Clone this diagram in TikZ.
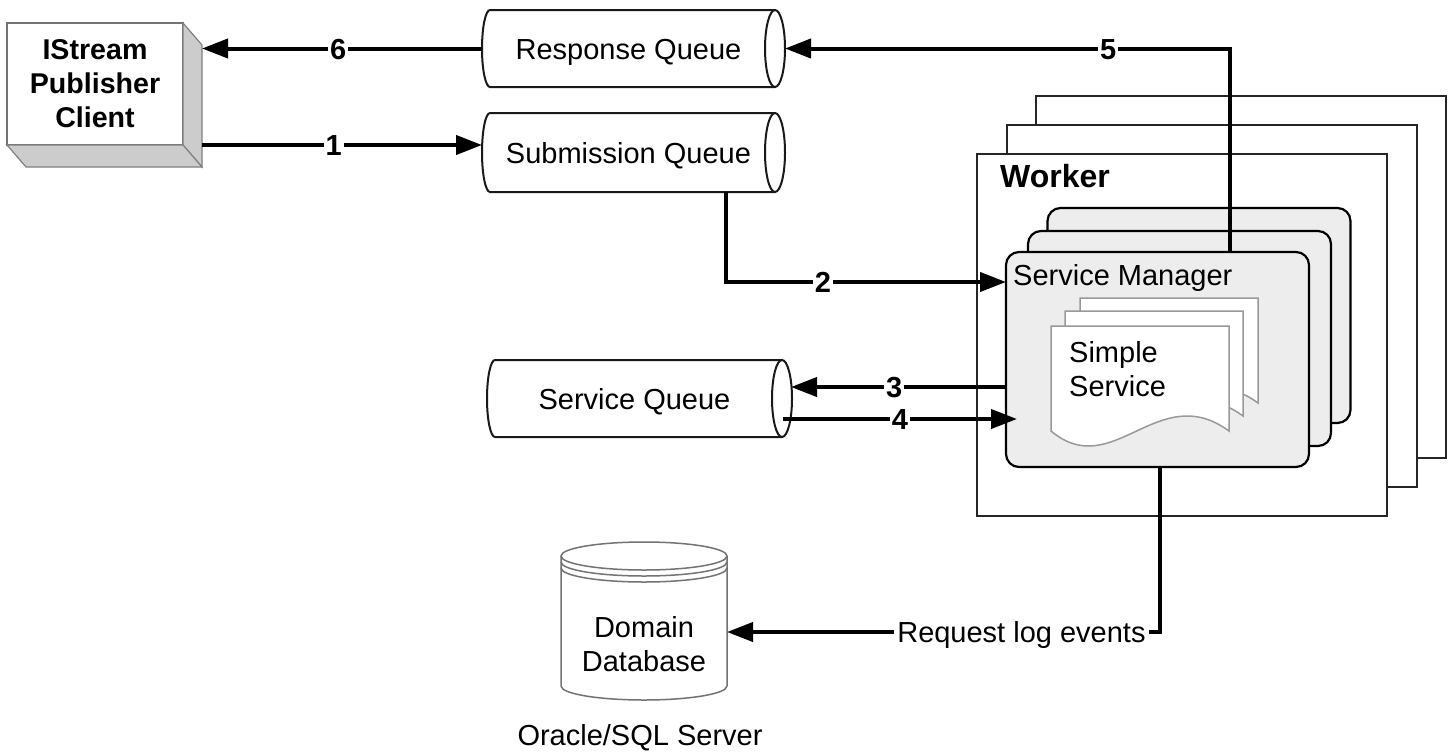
\documentclass[tikz,border=0pt]{standalone}
\usepackage{fontspec}
\setmainfont{Liberation Sans}
\usetikzlibrary{arrows.meta,calc}
\tikzset{
  basefont/.style={font=\fontsize{29}{34}\selectfont},
  arr/.style={line width=4pt, -{Triangle[length=26pt,width=19pt]}},
  num/.style={font=\fontsize{29}{34}\selectfont\bfseries, fill=white, inner sep=2pt, text height=21pt, text depth=0pt},
  shapebox/.style={rectangle, outer sep=0pt, inner sep=0pt},
  qnode/.style={shapebox, basefont, text height=21pt, text depth=0pt, minimum width=293pt},
  qline/.style={line width=2pt, draw=black!90},
  wbox/.style={shapebox, draw=black!85, line width=2pt, fill=white, minimum width=410pt, minimum height=362pt},
  smbox/.style={shapebox, draw=black, line width=2.2pt, fill=black!7, rounded corners=13pt, minimum width=303pt, minimum height=215pt},
  docline/.style={draw=black!40, line width=1.5pt, fill=white},
  dbline/.style={draw=black!55, line width=1.5pt},
  face/.style={draw=black!50, line width=1.2pt, fill=black!20},
  onetext/.style={basefont, inner sep=0pt, text height=21pt, text depth=0pt},
}
\newcommand\queueoutline[2]{%
  \draw[qline] ([xshift=8pt]#1.north west) -- (#1.north east)
     arc[start angle=90,end angle=-90,x radius=10pt,y radius=#2pt]
     -- ([xshift=8pt]#1.south west)
     arc[start angle=270,end angle=90,x radius=8pt,y radius=#2pt] -- cycle;
  \draw[qline] (#1.north east) arc[start angle=90,end angle=270,x radius=10pt,y radius=#2pt];
}
\newcommand\docpath[2]{%
  \filldraw[docline] (#1,#2) -- (#1+178,#2) -- (#1+178,#2+105)
    .. controls (#1+107,#2+53) and (#1+62,#2+157) .. (#1,#2+105) -- cycle;
}
\begin{document}
\begin{tikzpicture}[x=1pt,y=-1pt]
\fill[white] (0,0) rectangle (1448,753);
\useasboundingbox (0,0) rectangle (1448,753);

% Worker stack
\node[wbox] (wk3) at (1241,277) {};
\node[wbox] (wk2) at (1212,306) {};
\node[wbox] (wk1) at (1182,335) {};
\node[anchor=west, font=\fontsize{32}{38}\selectfont\bfseries, inner sep=0pt, text height=23pt, text depth=0pt] (wlabel) at (1000,176) {Worker};

% Service manager stack
\node[smbox] (sm3) at (1199,315.5) {};
\node[smbox] (sm2) at (1179.5,338.5) {};
\node[smbox] (sm) at (1157.5,359.5) {};
\node[onetext, anchor=west] (smlabel) at (1013,275) {Service Manager};

% Simple service documents
\docpath{1080}{298}
\docpath{1065}{311}
\docpath{1051}{326}
\node[basefont, inner sep=0pt, align=left, anchor=west] (simple) at (1069,369) {Simple\\Service};

% Queues
\node[qnode, minimum height=77pt] (resp) at (628.5,48.5) {Response Queue};
\queueoutline{resp}{38.5}
\node[qnode, minimum height=79pt] (sub) at (628.5,152.5) {Submission Queue};
\queueoutline{sub}{39.5}
\node[qnode, minimum width=295pt, minimum height=77pt] (svc) at (634.5,398.5) {Service Queue};
\queueoutline{svc}{38.5}

% Client
\node[shapebox, draw=black!55, line width=1.5pt, fill=white, minimum width=176pt, minimum height=122pt, align=center, font=\fontsize{28.6}{34}\selectfont\bfseries] (client) at (95,84) {IStream\\Publisher\\Client};
\draw[face] (client.north east) -- ++(19,22) -- ++(0,122) -- (client.south east) -- cycle;
\draw[face] (client.south west) -- ++(19,22) -- ++(176,0) -- (client.south east) -- cycle;
\coordinate (cr) at ([xshift=19pt]client.east);

% Database
\node[shapebox, minimum width=166pt, minimum height=158pt] (db) at (644,621) {};
\draw[dbline] ([yshift=-14pt]db.north west) -- ([yshift=14pt]db.south west)
   arc[start angle=180,end angle=360,x radius=83pt,y radius=14pt] -- ([yshift=-14pt]db.north east);
\draw[dbline] ([yshift=-14pt]db.north) ellipse[x radius=83pt, y radius=14pt];
\draw[dbline] ([yshift=-20pt]db.north west) arc[start angle=180,end angle=360,x radius=83pt,y radius=14pt];
\draw[dbline] ([yshift=-26pt]db.north west) arc[start angle=180,end angle=360,x radius=83pt,y radius=14pt];
\node[basefont, inner sep=0pt, align=center] (dbtext) at (644,644) {Domain\\Database};
\node[onetext] (oracle) at (640,735) {Oracle/SQL Server};

% Connectors
\draw[arr] (resp.west) -- (cr |- resp.west) node[num, pos=0.514] {6};
\coordinate (s1) at ([yshift=7.5pt]sub.west);
\draw[arr] (cr |- s1) -- (s1) node[num, pos=0.47] {1};
\draw[arr] ([xshift=97.5pt]sub.south) |- ([yshift=-30pt]sm.north west) node[num, pos=0.673] {2};
\draw[arr] ([yshift=-27.5pt]sm.west) -- ([xshift=9pt,yshift=11.5pt]svc.east) node[num, pos=0.52] {3};
\draw[arr] ([xshift=1pt,yshift=-20.5pt]svc.east) -- ([xshift=11pt,yshift=-59.5pt]sm.west) node[num, pos=0.5] {4};
\draw[arr] ([xshift=72.5pt]sm.north) |- ([xshift=10pt]resp.east) node[num, pos=0.637] {5};
\draw[arr] ([xshift=2.5pt]sm.south) |- ([yshift=-11pt]db.east) node[onetext, fill=white, inner sep=3pt, pos=0.66] {Request log events};
\end{tikzpicture}
\end{document}
